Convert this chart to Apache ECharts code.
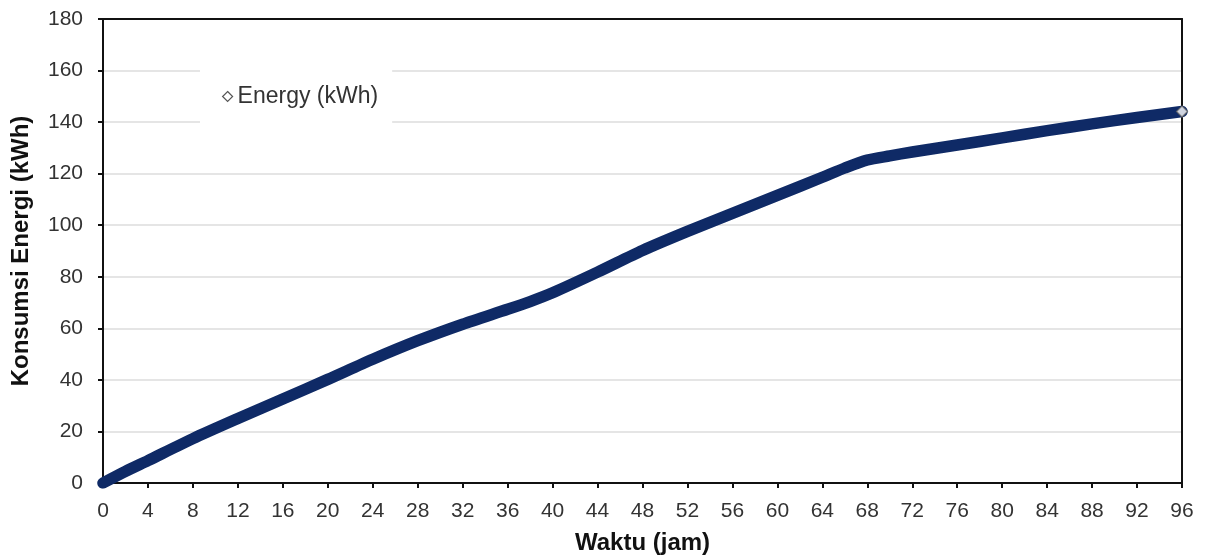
<!DOCTYPE html>
<html>
<head>
<meta charset="utf-8">
<script src="https://cdn.jsdelivr.net/npm/echarts@6/dist/echarts.min.js"></script>
<style>html,body{margin:0;padding:0;background:#fff}#c{width:1205px;height:560px}</style>
</head>
<body>
<div id="c"></div>
<script>
var hours = [0, 2, 4, 8, 12, 16, 20, 24, 28, 32, 36, 38, 40, 44, 48, 52, 56, 60, 64, 66, 68, 70, 72, 76, 80, 84, 88, 92, 96];
var energy = [0, 4.5, 8.7, 17.2, 25, 32.6, 40.2, 48, 55.2, 61.6, 67.4, 70.4, 73.8, 81.8, 90.2, 97.6, 104.6, 111.6, 118.6, 122.2, 125.3, 126.9, 128.4, 131.1, 133.9, 136.7, 139.3, 141.8, 144.1];
var xTicks = {min: 0, max: 96, step: 4};
var yTicks = {min: 0, max: 180, step: 20};
var seriesName = 'Energy (kWh)';

var pts = hours.map(function (h, i) { return [h, energy[i]]; });
var lastPt = pts[pts.length - 1];

var chart = echarts.init(document.getElementById('c'), null, {renderer: 'canvas'});
var font = 'Liberation Sans, Arial, sans-serif';
var frameAxis = {
  type: 'value', axisLine: {show: true, onZero: false, lineStyle: {color: '#111', width: 2}},
  axisTick: {show: false}, axisLabel: {show: false}, splitLine: {show: false}
};
chart.setOption({
  animation: false,
  backgroundColor: '#fff',
  grid: {left: 103, right: 23, top: 19, bottom: 77, containLabel: false, outerBoundsMode: 'none'},
  legend: {
    left: 200, top: 66,
    backgroundColor: '#fff',
    padding: [19, 14, 19, 22],
    itemWidth: 10, itemHeight: 10, itemGap: 5,
    textStyle: {fontFamily: font, fontSize: 23, color: '#333'},
    data: [{name: seriesName, icon: 'diamond', itemStyle: {color: '#fff', borderColor: '#555', borderWidth: 1.2}}]
  },
  xAxis: [{
    type: 'value', min: xTicks.min, max: xTicks.max, interval: xTicks.step,
    name: 'Waktu (jam)', nameLocation: 'middle', nameGap: 48,
    nameTextStyle: {fontFamily: font, fontSize: 24, fontWeight: 'bold', color: '#111'},
    axisLine: {show: true, onZero: false, lineStyle: {color: '#111', width: 2}},
    axisTick: {show: true, inside: false, length: 5, lineStyle: {color: '#111', width: 2}},
    axisLabel: {fontFamily: font, fontSize: 21, color: '#333', margin: 18},
    splitLine: {show: false}
  }, Object.assign({position: 'top', min: xTicks.min, max: xTicks.max}, frameAxis)],
  yAxis: [{
    type: 'value', min: yTicks.min, max: yTicks.max, interval: yTicks.step,
    name: 'Konsumsi Energi (kWh)', nameLocation: 'middle', nameGap: 70,
    nameTextStyle: {fontFamily: font, fontSize: 24, fontWeight: 'bold', color: '#111'},
    axisLine: {show: true, onZero: false, lineStyle: {color: '#111', width: 2}},
    axisTick: {show: true, inside: false, length: 5, lineStyle: {color: '#111', width: 2}},
    axisLabel: {fontFamily: font, fontSize: 21, color: '#333', margin: 20},
    splitLine: {show: true, lineStyle: {color: '#dcdcdc', width: 1.5}}
  }, Object.assign({position: 'right', min: yTicks.min, max: yTicks.max}, frameAxis)],
  series: [{
    name: seriesName,
    type: 'line',
    data: pts,
    smooth: 0.25,
    showSymbol: false,
    symbol: 'diamond',
    itemStyle: {color: '#fff', borderColor: '#555'},
    lineStyle: {color: '#0f2a66', width: 11.5, cap: 'round', join: 'round'},
    z: 3
  }, {
    name: seriesName,
    type: 'scatter',
    data: [lastPt],
    symbol: 'diamond',
    symbolSize: 11,
    itemStyle: {color: '#fff', borderColor: '#666', borderWidth: 1.2},
    z: 5
  }]
});
</script>
</body>
</html>
